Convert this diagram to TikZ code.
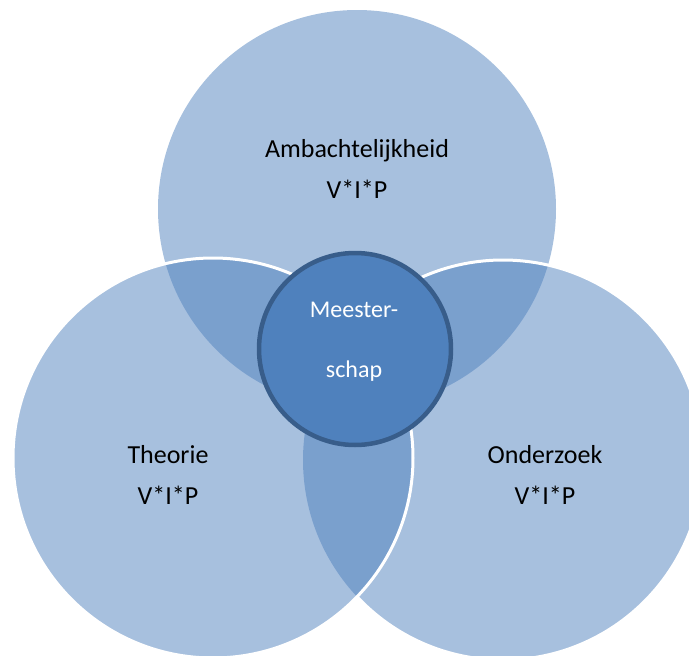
\documentclass[tikz,border=0pt]{standalone}
\usepackage{fontspec}
\setmainfont{Carlito}
\definecolor{vennblue}{HTML}{4F81BD}
\definecolor{venndark}{HTML}{385D8A}

\begin{document}
\begin{tikzpicture}[x=1pt, y=-1pt,
    venn/.style={fill=vennblue, fill opacity=0.5},
    rim/.style={draw=white, line width=3pt},
    venntext/.style={font=\fontsize{26}{30}\selectfont, anchor=base, inner sep=0pt}]
    \useasboundingbox (0,0) rectangle (689,656);

    % Circle centres
    \coordinate (ambacht) at (357,209);
    \coordinate (theorie) at (213,458);
    \coordinate (onderzoek) at (503,460);

    % Three transparent circles
    \fill[venn] (ambacht) circle (199pt);
    \fill[venn] (onderzoek) circle (200pt);
    \fill[venn] (theorie) circle (200pt);

    % White rims (right one hidden under the left circle)
    \begin{scope}[even odd rule]
        \clip (0,0) rectangle (689,656) (theorie) circle (200pt);
        \draw[rim] (onderzoek) circle (200pt);
    \end{scope}
    \draw[rim] (theorie) circle (200pt);

    % Centre circle
    \node[circle, minimum size=192pt, fill=vennblue, draw=venndark, line width=4.5pt] (meester) at (355,349) {};

    % Labels
    \node[venntext] (ambtitel) at (357,157) {Ambachtelijkheid};
    \node[venntext] (ambvip) at (357,198) {V*I*P};
    \node[venntext] (theotitel) at (168,463) {Theorie};
    \node[venntext] (theovip) at (168,504) {V*I*P};
    \node[venntext] (ondtitel) at (545,463) {Onderzoek};
    \node[venntext] (ondvip) at (545,504) {V*I*P};
    \node[venntext, white, font=\fontsize{24}{28}\selectfont] (meestitel) at (354,317) {Meester-};
    \node[venntext, white, font=\fontsize{24}{28}\selectfont] (meesschap) at (354,377) {schap};
\end{tikzpicture}
\end{document}
